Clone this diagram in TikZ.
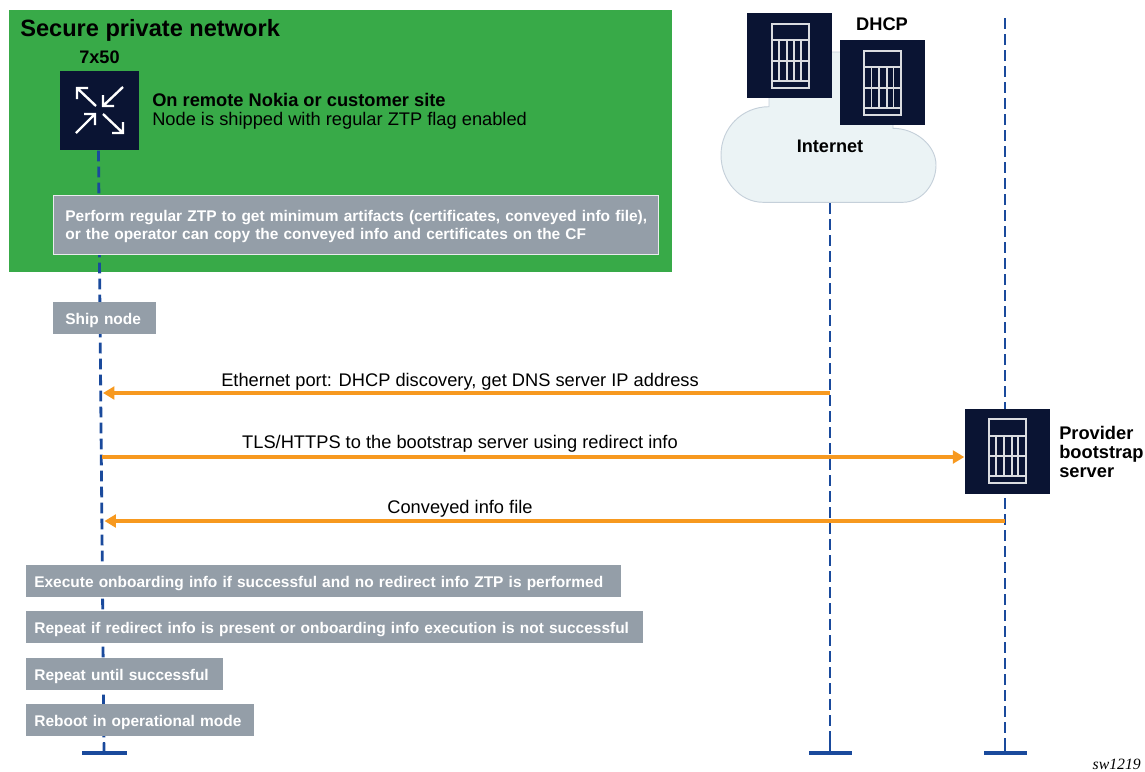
\documentclass[tikz,border=0pt]{standalone}
\usepackage{fontspec}
\setmainfont{Liberation Sans}
\newfontfamily\serifit{Liberation Serif}
\usetikzlibrary{arrows.meta}
\definecolor{navy}{HTML}{0A1433}
\definecolor{grass}{HTML}{38AA48}
\definecolor{slate}{HTML}{949EA8}
\definecolor{life}{HTML}{1A4A9C}
\definecolor{amber}{HTML}{F7991F}
\definecolor{cloudfill}{HTML}{EBF3F5}
\definecolor{cloudline}{HTML}{C5D0DA}
\newcommand{\gline}[1]{\raisebox{-4.8pt}[0pt][0pt]{#1}}
\tikzset{
  x=0.75pt,y=-0.75pt,
  gbox/.style n args={3}{fill=slate,text=white,anchor=north west,align=left,
    draw=#3,line width=0.5pt,font=\fontsize{11.6}{13.5}\selectfont\bfseries,
    minimum height=#2*0.75pt-0.5pt,inner ysep=0pt,inner xsep=9pt,text width=#1*0.75pt-18.5pt},
  gboxs/.style n args={3}{gbox={#1}{#2}{#3},inner xsep=6pt,text width=#1*0.75pt-12.5pt},
  lifeline/.style={draw=life,line width=2.1pt,dash pattern=on 8.2pt off 3.8pt},
  foot/.style={draw=life,line width=3.6pt},
  stem/.style={draw=life,line width=2.1pt},
  msg/.style={draw=amber,line width=2.4pt,-{Triangle[length=8.5pt,width=9.5pt]}},
  msgl/.style={font=\fontsize{13.7}{15}\selectfont,anchor=center},
  sbox/.style={fill=navy,minimum size=63.75pt,inner sep=0pt,anchor=north west},
  head/.style={font=\fontsize{13.7}{14.2}\selectfont\bfseries},
  pics/srvicon/.style={code={
    \draw[white!85!navy,line width=1.4pt]
      (24.7,11) rectangle (61.7,74.7)
      (24.7,27.3) -- (61.7,27.3) (24.7,47.7) -- (61.7,47.7) (24.7,67.7) -- (61.7,67.7)
      (32,27.3) -- (32,67.7) (39.7,27.3) -- (39.7,67.7) (47.3,27.3) -- (47.3,67.7) (54,27.3) -- (54,67.7);
  }},
}
\begin{document}
\begin{tikzpicture}
\useasboundingbox (0,0) rectangle (1145,771);
% green zone
\node[fill=grass,anchor=north west,minimum width=497.25pt,minimum height=196.5pt,inner sep=0pt] (zone) at (9,10) {};
\node[anchor=west,font=\fontsize{17.7}{20}\selectfont\bfseries,inner sep=0pt] (zonet) at (20,30) {Secure private network};
% cloud
\draw[fill=cloudfill,draw=cloudline,line width=0.7pt] (769,60) -- (769,106.7)
  .. controls (742,106.7) and (721,128) .. (721,155)
  .. controls (721,181) and (740,202.3) .. (763,202.3)
  -- (903,202.3)
  .. controls (921,202.3) and (936,185) .. (936,165)
  .. controls (936,145) and (915,128.3) .. (893,128.3)
  -- (893,52) -- (769,52) -- cycle;
\node[font=\fontsize{13.6}{15}\selectfont\bfseries,inner sep=0pt] (inet) at (830,146.5) {Internet};
\coordinate (cloudb) at (830,203);
% router
\node[fill=navy,minimum size=59.25pt,inner sep=0pt,anchor=north west] (router) at (60,71) {};
\node[font=\fontsize{13.6}{15}\selectfont\bfseries,inner sep=0pt] (rname) at (99.5,57) {7x50};
\draw[white,line width=1.8pt] (96,106) -- (77,88) (88,88) -- (77,88) -- (77,99)
  (123,87) -- (103,106) (103,95) -- (103,106) -- (114,106)
  (76,133) -- (95,114) (84,114) -- (95,114) -- (95,125)
  (103,114) -- (123,133) (123,122) -- (123,133) -- (112,133);
\node[head,anchor=west,inner sep=0pt] (site) at (152,100) {On remote Nokia or customer site};
\node[font=\fontsize{13.7}{15}\selectfont,anchor=west,inner sep=0pt] (ship) at (152,120.5) {Node is shipped with regular ZTP flag enabled};
% lifeline ends
\coordinate (f1) at (104,753);
\coordinate (f2) at (830,753);
\coordinate (f3) at (1005,753);
\coordinate (t3) at (1005,18);
\draw[lifeline] (router.south -| 98.5,0) -- (f1);
\draw[lifeline] (cloudb) -- (f2);
\draw[lifeline] (t3) -- (f3);
\draw[stem] (104,742) -- (f1);
\draw[stem] (830,742) -- (f2);
\draw[stem] (1005,742) -- (f3);
\draw[foot] (82,753) -- (f1) -- (127,753);
\draw[foot] (809,753) -- (f2) -- (852,753);
\draw[foot] (984,753) -- (f3) -- (1027,753);
% servers
\node[sbox] (s1) at (747,13) {};
\pic at (747,13) {srvicon};
\node[sbox] (s2) at (839.5,40) {};
\pic at (839.5,40) {srvicon};
\node[font=\fontsize{13.7}{15}\selectfont\bfseries,inner sep=0pt] (dhcp) at (882,24) {DHCP};
\node[sbox] (s3) at (964.3,408.3) {};
\pic at (964.3,408.3) {srvicon};
\node[head,anchor=west,align=left,inner sep=0pt] (prov) at (1059,452) {Provider\\bootstrap\\server};
% grey boxes
\node[gbox={606}{60}{white!80!slate}] (b1) at (53,195) {\rule{0pt}{10pt}\mbox{Perform regular ZTP to get minimum artifacts (certificates, conveyed info file),}\\\mbox{or the operator can copy the conveyed info and certificates on the CF}};
\node[gbox={103}{32}{slate}] (b2) at (53,302) {\gline{Ship node}};
\node[gboxs={595}{32}{slate}] (b3) at (26,565) {\gline{Execute onboarding info if successful and no redirect info ZTP is performed}};
\node[gboxs={617}{32}{slate}] (b4) at (26,611) {\gline{Repeat if redirect info is present or onboarding info execution is not successful}};
\node[gboxs={197}{32}{slate}] (b5) at (26,658) {\gline{Repeat until successful}};
\node[gboxs={228}{32}{slate}] (b6) at (26,704) {\gline{Reboot in operational mode}};
% messages
\coordinate (m1a) at (830,393); \coordinate (m1b) at (103,393);
\coordinate (m2a) at (102,457); \coordinate (m2b) at (s3.west |- 0,457);
\coordinate (m3a) at (1005,521); \coordinate (m3b) at (104.5,521);
\draw[msg] (m1a) -- (m1b);
\draw[msg] (m2a) -- (m2b);
\draw[msg] (m3a) -- (m3b);
\node[msgl] (l1) at (460,382) {Ethernet port: DHCP discovery, get DNS server IP address};
\node[msgl] (l2) at (460,444) {TLS/HTTPS to the bootstrap server using redirect info};
\node[msgl] (l3) at (460,509) {Conveyed info file};
\node[font=\fontsize{11.8}{13}\serifit\itshape,anchor=east,inner sep=0pt] (tag) at (1141,764) {sw1219};
\end{tikzpicture}
\end{document}
